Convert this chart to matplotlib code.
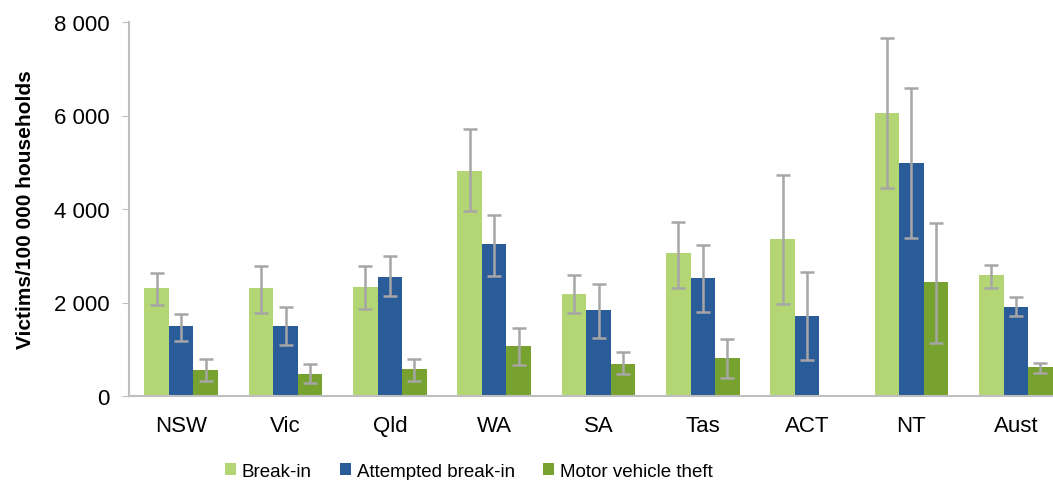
import numpy as np
import matplotlib.pyplot as plt

# Victimisation rates by state, with confidence interval ends
states = ["NSW", "Vic", "Qld", "WA", "SA", "Tas", "ACT", "NT", "Aust"]

break_in = [2300, 2300, 2330, 4820, 2180, 3060, 3360, 6050, 2590]
break_in_lo = [1950, 1780, 1860, 3950, 1780, 2310, 1970, 4450, 2310]
break_in_hi = [2640, 2780, 2780, 5720, 2590, 3720, 4730, 7660, 2800]

attempted = [1500, 1500, 2550, 3250, 1830, 2530, 1720, 4990, 1910]
attempted_lo = [1180, 1100, 2130, 2570, 1250, 1790, 760, 3390, 1720]
attempted_hi = [1760, 1910, 3000, 3880, 2400, 3230, 2660, 6590, 2120]

motor = [550, 460, 580, 1080, 690, 810, np.nan, 2440, 610]
motor_lo = [320, 270, 330, 660, 460, 380, np.nan, 1140, 500]
motor_hi = [800, 690, 790, 1450, 950, 1220, np.nan, 3690, 710]

series = [
    ("Break-in", break_in, break_in_lo, break_in_hi, "#b3d574"),
    ("Attempted break-in", attempted, attempted_lo, attempted_hi, "#2a5c9a"),
    ("Motor vehicle theft", motor, motor_lo, motor_hi, "#78a22f"),
]

plt.rcParams["font.family"] = ["Liberation Sans", "DejaVu Sans"]

fig = plt.figure(figsize=(10.53, 4.81), dpi=100)
ax = fig.add_axes([129 / 1053, 84 / 481, 939 / 1053, 374 / 481])

x = np.arange(len(states))
width = 0.235
for i, (name, vals, lo, hi, color) in enumerate(series):
    vals = np.array(vals, dtype=float)
    yerr = [vals - np.array(lo), np.array(hi) - vals]
    ax.bar(x + (i - 1) * width, vals, width, color=color, label=name,
           yerr=yerr, ecolor="#a6a6a6",
           error_kw=dict(elinewidth=1.8, capsize=5, capthick=1.8))

ax.set_xlim(-0.5, 8.5)
ax.set_ylim(0, 8000)
ax.set_yticks([0, 2000, 4000, 6000, 8000])
ax.set_yticklabels(["0", "2 000", "4 000", "6 000", "8 000"])
ax.set_xticks(x)
ax.set_xticklabels(states)
ax.tick_params(axis="y", labelsize=16, length=5, color="#bfbfbf", pad=9)
ax.tick_params(axis="x", labelsize=16, length=0, pad=14)

for side in ["top", "right"]:
    ax.spines[side].set_visible(False)
for side in ["left", "bottom"]:
    ax.spines[side].set_color("#bfbfbf")
    ax.spines[side].set_linewidth(1.5)

ax.set_ylabel("Victims/100 000 households", fontsize=15, fontweight="bold")
ax.yaxis.set_label_coords(-0.1, 0.5)

fig.legend(loc="center", bbox_to_anchor=(0.445, 0.018), ncol=3,
           frameon=False, fontsize=13.5, handlelength=0.6, handleheight=0.6,
           handletextpad=0.3, columnspacing=1.5)

plt.savefig("out.png", dpi=100)
